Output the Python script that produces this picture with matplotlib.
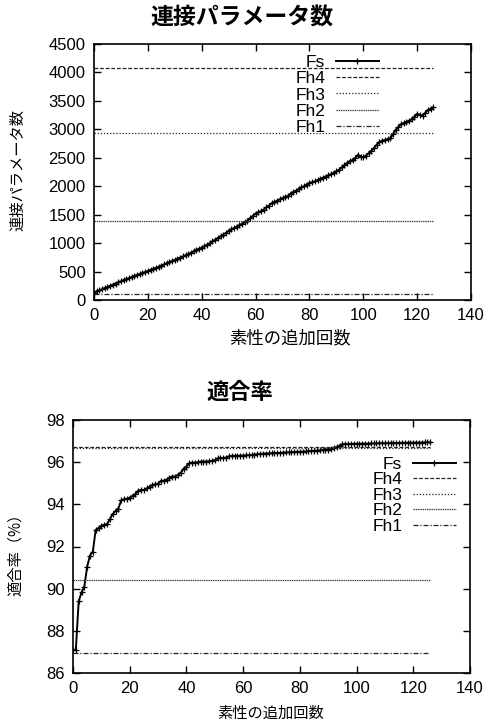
import matplotlib
matplotlib.use("Agg")
import matplotlib.pyplot as plt
import numpy as np

plt.rcParams['font.family'] = ['Liberation Sans', 'Noto Sans CJK JP', 'DejaVu Sans']

# ---------------- data ----------------
steps = list(range(0, 127))

params_fs = [
    130, 150, 170, 190, 210, 230, 250, 270, 290, 310,
    330, 350, 365, 385, 400, 420, 440, 455, 475, 490,
    510, 530, 550, 565, 585, 605, 625, 645, 665, 685,
    703, 725, 745, 765, 785, 805, 830, 855, 880, 900,
    920, 945, 970, 995, 1030, 1060, 1090, 1120, 1150, 1180,
    1215, 1240, 1265, 1290, 1315, 1340, 1365, 1390, 1440, 1480,
    1520, 1545, 1560, 1590, 1630, 1660, 1700, 1720, 1745, 1770,
    1790, 1810, 1830, 1870, 1900, 1920, 1950, 1980, 2000, 2030,
    2055, 2070, 2085, 2105, 2130, 2150, 2170, 2190, 2210, 2235,
    2260, 2290, 2330, 2370, 2410, 2440, 2460, 2490, 2550, 2520,
    2510, 2540, 2580, 2620, 2670, 2730, 2780, 2800, 2810, 2825,
    2840, 2910, 2990, 3040, 3090, 3110, 3130, 3150, 3180, 3220,
    3270, 3255, 3240, 3290, 3340, 3360, 3390,
]
params_fh = {"Fh4": 4070, "Fh3": 2935, "Fh2": 1380, "Fh1": 98}

acc_fs = [
    87.07, 87.10, 89.40, 89.82, 90.10, 91.05, 91.57, 91.76, 92.79, 92.87,
    92.98, 93.03, 93.06, 93.30, 93.53, 93.69, 93.80, 94.19, 94.24, 94.26,
    94.32, 94.40, 94.48, 94.65, 94.68, 94.68, 94.76, 94.84, 94.92, 94.95,
    94.98, 95.11, 95.12, 95.16, 95.27, 95.32, 95.32, 95.40, 95.50, 95.68,
    95.79, 95.95, 95.98, 95.98, 96.00, 96.02, 96.03, 96.03, 96.04, 96.06,
    96.10, 96.18, 96.19, 96.20, 96.22, 96.28, 96.29, 96.30, 96.30, 96.31,
    96.31, 96.32, 96.33, 96.34, 96.36, 96.38, 96.39, 96.40, 96.41, 96.42,
    96.42, 96.43, 96.43, 96.44, 96.45, 96.46, 96.46, 96.47, 96.48, 96.49,
    96.49, 96.50, 96.51, 96.52, 96.53, 96.54, 96.55, 96.56, 96.57, 96.58,
    96.60, 96.62, 96.66, 96.72, 96.78, 96.84, 96.86, 96.86, 96.86, 96.87,
    96.87, 96.87, 96.88, 96.88, 96.88, 96.89, 96.89, 96.89, 96.90, 96.90,
    96.90, 96.90, 96.91, 96.91, 96.91, 96.91, 96.92, 96.92, 96.92, 96.92,
    96.93, 96.93, 96.93, 96.93, 96.94, 96.94, 96.94,
]
acc_fh = {"Fh4": 96.74, "Fh3": 96.66, "Fh2": 90.42, "Fh1": 86.93}

fh_span = [0, 126]

title_top = "連接パラメータ数"
title_bot = "適合率"
xlabel = "素性の追加回数"
ylabel_top = "連接パラメータ数"
ylabel_bot = "適合率（%）"

x_ticks = [0, 20, 40, 60, 80, 100, 120, 140]
y_ticks_top = [0, 500, 1000, 1500, 2000, 2500, 3000, 3500, 4000, 4500]
y_ticks_bot = [86, 88, 90, 92, 94, 96, 98]

# ---------------- styles ----------------
fh_styles = {
    "Fh4": dict(color="#222222", lw=0.9, dashes=(3, 1.5)),
    "Fh3": dict(color="#222222", lw=0.9, dashes=(1, 1.5)),
    "Fh2": dict(color="#444444", lw=0.9, dashes=(1.2, 0.6)),
    "Fh1": dict(color="#222222", lw=0.9, dashes=(4, 1.5, 1, 1.5)),
}

W, H = 484, 724
fig = plt.figure(figsize=(W / 100, H / 100), dpi=100)


def px_axes(l, t, r, b):
    return fig.add_axes([l / W, 1 - b / H, (r - l) / W, (b - t) / H])


def style_axes(ax):
    for s in ax.spines.values():
        s.set_linewidth(1.2)
    ax.tick_params(direction="in", top=True, right=True, length=5, width=1,
                   labelsize=12, pad=6)


def draw(ax, fs, fh, legend_anchor, spacing):
    ax.plot(steps, fs, color="black", lw=1.4, marker="+", markersize=5,
            markeredgewidth=0.9, label="Fs")
    for name in ["Fh4", "Fh3", "Fh2", "Fh1"]:
        st = fh_styles[name]
        ax.plot(fh_span, [fh[name], fh[name]], color=st["color"], lw=st["lw"],
                dashes=st["dashes"], label=name)
    leg = ax.legend(loc="upper right", bbox_to_anchor=legend_anchor,
                    frameon=False, markerfirst=False, fontsize=12.5,
                    handlelength=2.5, handletextpad=0.6, labelspacing=spacing,
                    borderpad=0, borderaxespad=0)
    return leg


# top chart
ax1 = px_axes(94, 44, 471, 300)
style_axes(ax1)
draw(ax1, params_fs, params_fh, (0.756, 0.957), 0.06)
ax1.set_xlim(0, 140)
ax1.set_ylim(0, 4500)
ax1.set_xticks(x_ticks)
ax1.set_yticks(y_ticks_top)

# bottom chart
ax2 = px_axes(73, 420, 470, 673)
style_axes(ax2)
draw(ax2, acc_fs, acc_fh, (0.965, 0.855), 0.02)
ax2.set_xlim(0, 140)
ax2.set_ylim(86, 98)
ax2.set_xticks(x_ticks)
ax2.set_yticks(y_ticks_bot)

# titles and labels
fig.text(242 / W, 1 - 18 / H, title_top, ha="center", va="center",
         fontsize=16.5, fontweight="bold", family="Noto Sans CJK JP")
fig.text(240 / W, 1 - 392 / H, title_bot, ha="center", va="center",
         fontsize=16, fontweight="bold", family="Noto Sans CJK JP")
fig.text(290 / W, 1 - 338 / H, xlabel, ha="center", va="center",
         fontsize=12.5, family="Noto Sans CJK JP")
fig.text(271 / W, 1 - 713 / H, xlabel, ha="center", va="center",
         fontsize=11, family="Noto Sans CJK JP")
fig.text(18 / W, 1 - 170 / H, ylabel_top, ha="center", va="center",
         rotation=90, fontsize=11, family="Noto Sans CJK JP")
fig.text(15 / W, 1 - 551 / H, ylabel_bot, ha="center", va="center",
         rotation=90, fontsize=11, family="Noto Sans CJK JP")

fig.savefig("out.png", dpi=100)
